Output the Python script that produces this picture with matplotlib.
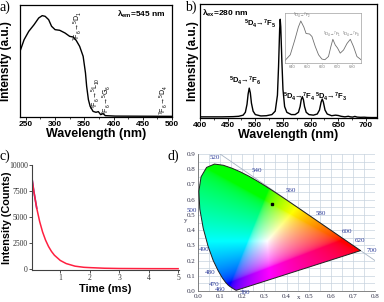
import numpy as np
import matplotlib
matplotlib.use('Agg')
import matplotlib.pyplot as plt
from matplotlib.patches import Polygon
from matplotlib.ticker import MultipleLocator

plt.rcParams['font.family'] = ['Liberation Sans', 'DejaVu Sans']
plt.rcParams['mathtext.default'] = 'regular'
SERIF = ['Liberation Serif', 'DejaVu Serif']

# ---------------- data ----------------
# (a) excitation spectrum
exc_wl = [240, 247, 255, 264, 272, 278, 283, 289, 294, 300, 308, 317, 325, 331, 336,
          342, 348, 352, 354, 357, 360, 365, 370, 374, 378, 382, 386, 403, 450, 500]
exc_int = [0.586, 0.69, 0.765, 0.824, 0.884, 0.905, 0.899, 0.869, 0.81, 0.78, 0.774,
           0.75, 0.72, 0.714, 0.685, 0.631, 0.542, 0.393, 0.274, 0.155, 0.095, 0.05,
           0.042, 0.048, 0.021, 0.03, 0.012, 0.008, 0.007, 0.006]

# (b) emission spectrum
em_wl = [400, 420, 440, 460, 470, 478, 482, 485, 487, 489, 491, 493, 496, 500, 510, 520,
         530, 536, 540, 542, 544, 545, 546, 548, 550, 553, 557, 565, 572, 578, 581, 583,
         585, 587, 589, 592, 597, 605, 612, 616, 619, 621, 623, 626, 630, 638, 645, 650,
         655, 662, 668, 672, 676, 680, 684, 690, 697, 702, 710, 720]
em_int = [0.01, 0.01, 0.01, 0.012, 0.015, 0.025, 0.05, 0.12, 0.21, 0.262, 0.22, 0.13,
          0.06, 0.03, 0.018, 0.02, 0.03, 0.06, 0.2, 0.45, 0.78, 0.866, 0.8, 0.5, 0.25,
          0.1, 0.05, 0.03, 0.03, 0.05, 0.1, 0.16, 0.187, 0.16, 0.1, 0.05, 0.03, 0.025,
          0.035, 0.07, 0.14, 0.166, 0.14, 0.07, 0.035, 0.02, 0.025, 0.022, 0.015, 0.01,
          0.015, 0.01, 0.008, 0.014, 0.008, 0.006, 0.007, 0.005, 0.004, 0.004]

# (b) inset
ins_wl = [635.6, 639, 642, 644.4, 646, 648, 649.5, 651.8, 653.4, 655.6, 657.8, 660, 662,
          664.4, 666, 667.3, 668.9, 670.4, 672.2, 674.4, 676.7, 678.9, 681, 683.3, 686]
ins_int = [0.053, 0.164, 0.46, 0.72, 0.84, 0.72, 0.59, 0.58, 0.53, 0.33, 0.164, 0.079,
           0.066, 0.13, 0.33, 0.474, 0.36, 0.30, 0.197, 0.26, 0.39, 0.474, 0.33, 0.13, 0.066]

# (c) decay curve
decay_t = [0.04, 0.05, 0.1, 0.2, 0.3, 0.4, 0.5, 0.6, 0.7, 0.8, 1.0, 1.2, 1.5, 1.8, 2.0,
           2.5, 3.0, 4.0, 5.0]
decay_i = [8700, 8500, 7500, 5840, 4550, 3540, 2760, 2150, 1675, 1305, 800, 500, 250,
           140, 110, 50, 25, 10, 5]

# (d) CIE 1931 spectral locus
cie_wl = [380, 390, 400, 410, 420, 430, 440, 450, 460, 465, 470, 475, 480, 485, 490, 495,
          500, 505, 510, 515, 520, 525, 530, 535, 540, 545, 550, 555, 560, 565, 570, 575,
          580, 585, 590, 595, 600, 605, 610, 620, 630, 640, 650, 660, 680, 700]
cie_x = [0.1741, 0.1738, 0.1733, 0.1726, 0.1714, 0.1689, 0.1644, 0.1566, 0.1440, 0.1355,
         0.1241, 0.1096, 0.0913, 0.0687, 0.0454, 0.0235, 0.0082, 0.0039, 0.0139, 0.0389,
         0.0743, 0.1142, 0.1547, 0.1929, 0.2296, 0.2658, 0.3016, 0.3373, 0.3731, 0.4087,
         0.4441, 0.4788, 0.5125, 0.5448, 0.5752, 0.6029, 0.6270, 0.6482, 0.6658, 0.6915,
         0.7079, 0.7190, 0.7260, 0.7300, 0.7334, 0.7347]
cie_y = [0.0050, 0.0049, 0.0048, 0.0048, 0.0051, 0.0069, 0.0109, 0.0177, 0.0297, 0.0399,
         0.0578, 0.0868, 0.1327, 0.2007, 0.2950, 0.4127, 0.5384, 0.6548, 0.7502, 0.8120,
         0.8338, 0.8262, 0.8059, 0.7816, 0.7543, 0.7243, 0.6923, 0.6589, 0.6245, 0.5896,
         0.5547, 0.5202, 0.4866, 0.4544, 0.4242, 0.3965, 0.3725, 0.3514, 0.3340, 0.3083,
         0.2920, 0.2809, 0.2740, 0.2700, 0.2666, 0.2653]
sample_xy = (0.335, 0.57)
wl_labels = ['380', '460', '470', '480', '490', '500', '520', '540', '560', '580', '600', '620', '700']

# ---------------- figure ----------------
fig = plt.figure(figsize=(3.84, 3.02), dpi=100)
W, H = 384.0, 302.0


def box(l, t, r, b):
    return [l / W, 1 - b / H, (r - l) / W, (b - t) / H]


def style_spec(ax):
    ax.tick_params(axis='x', which='major', direction='out', length=2, width=0.6,
                   labelsize=6, pad=1)
    ax.tick_params(axis='x', which='minor', direction='out', length=1.2, width=0.5)
    ax.tick_params(axis='y', left=False, labelleft=False)
    for lab in ax.get_xticklabels():
        lab.set_fontweight('bold')
    for s in ax.spines.values():
        s.set_linewidth(0.9)


# ---- (a)
axa = fig.add_axes(box(20, 5, 172, 117))
axa.plot(exc_wl, exc_int, color='black', lw=1.0)
axa.set_xlim(240, 500)
axa.set_ylim(0, 1)
axa.xaxis.set_major_locator(MultipleLocator(50))
axa.xaxis.set_minor_locator(MultipleLocator(25))
style_spec(axa)
axa.set_xlabel('Wavelength (nm)', fontsize=9, fontweight='bold', labelpad=0)
axa.set_ylabel('Intensity (a.u.)', fontsize=8.5, fontweight='bold')
axa.yaxis.set_label_coords(-0.05, 0.5)
axa.text(0.96, 0.92, 'λ$_{em}$=545 nm', transform=axa.transAxes, ha='right', va='center',
         fontsize=6, fontweight='bold')
ann_kw = dict(rotation=90, fontsize=5, ha='center', va='bottom')
axa.text(338, 0.68, '$^{7}$F$_{6}$→$^{5}$D$_{1}$', **ann_kw)
axa.text(369, 0.07, '$^{7}$F$_{6}$→$^{5}$L$_{10}$', **ann_kw)
axa.text(388, 0.02, '$^{7}$F$_{6}$→$^{5}$G$_{6}$', **ann_kw)
axa.text(486, 0.02, '$^{7}$F$_{6}$→$^{5}$D$_{4}$', **ann_kw)

# ---- (b)
axb = fig.add_axes(box(200, 4, 377, 118))
axb.plot(em_wl, em_int, color='black', lw=1.0)
axb.set_xlim(400, 720)
axb.set_ylim(0, 1)
axb.xaxis.set_major_locator(MultipleLocator(50))
axb.xaxis.set_minor_locator(MultipleLocator(25))
style_spec(axb)
axb.set_xlabel('Wavelength (nm)', fontsize=9, fontweight='bold', labelpad=0)
axb.set_ylabel('Intensity (a.u.)', fontsize=8.5, fontweight='bold')
axb.yaxis.set_label_coords(-0.008, 0.5)
axb.text(404, 0.92, 'λ$_{ex}$=280 nm', ha='left', va='center', fontsize=6, fontweight='bold')
bkw = dict(fontsize=5.5, fontweight='bold', va='center')
axb.text(539, 0.83, '$^{5}$D$_{4}$→$^{7}$F$_{5}$', ha='right', **bkw)
axb.text(481, 0.33, '$^{5}$D$_{4}$→$^{7}$F$_{6}$', ha='center', **bkw)
axb.text(579, 0.19, '$^{5}$D$_{4}$→$^{7}$F$_{4}$', ha='center', **bkw)
axb.text(638, 0.19, '$^{5}$D$_{4}$→$^{7}$F$_{3}$', ha='center', **bkw)

# inset
axi = fig.add_axes(box(285, 13, 361, 63))
axi.plot(ins_wl, ins_int, color='#707070', lw=0.6)
axi.set_xlim(635.5, 686)
axi.set_ylim(0, 1)
axi.set_xticks([640, 650, 660, 670, 680])
axi.tick_params(axis='x', labelsize=3, length=1, width=0.4, pad=0.5, colors='#808080')
axi.tick_params(axis='y', left=False, labelleft=False)
for s in axi.spines.values():
    s.set_color('#a0a0a0')
    s.set_linewidth(0.5)
ikw = dict(fontsize=3, color='#707070', ha='center', va='center')
axi.text(647, 0.95, '$^{5}$D$_{4}$→$^{7}$F$_{2}$', **ikw)
axi.text(667, 0.58, '$^{5}$D$_{4}$→$^{7}$F$_{1}$', **ikw)
axi.text(679.5, 0.58, '$^{5}$D$_{4}$→$^{7}$F$_{0}$', **ikw)

# ---- (c)
axc = fig.add_axes(box(32, 165, 179, 270))
axc.plot(decay_t[:4], decay_i[:4], color='#6040c0', lw=1.2)
axc.plot(decay_t[1:], decay_i[1:], color='#ff2040', lw=1.1)
axc.set_xlim(0.04, 5.03)
axc.set_ylim(-120, 10000)
axc.set_xticks([1, 2, 3, 4, 5])
axc.set_yticks([0, 2500, 5000, 7500, 10000])
axc.spines['top'].set_visible(False)
axc.spines['right'].set_visible(False)
for s in ('left', 'bottom'):
    axc.spines[s].set_linewidth(0.8)
    axc.spines[s].set_color('#404040')
axc.tick_params(labelsize=5.5, length=2, width=0.6, pad=1, colors='#303030')
for lab in axc.get_xticklabels() + axc.get_yticklabels():
    lab.set_family(SERIF)
axc.set_xlabel('Time (ms)', fontsize=8, fontweight='bold', labelpad=1)
axc.set_ylabel('Intensity (Counts)', fontsize=7.8, fontweight='bold')
axc.yaxis.set_label_coords(-0.135, 0.5)

# ---- (d)
axd = fig.add_axes(box(198, 154, 375, 291))
axd.set_xlim(0, 0.8)
axd.set_ylim(0, 0.9)
axd.set_axisbelow(True)
axd.xaxis.set_major_locator(MultipleLocator(0.1))
axd.yaxis.set_major_locator(MultipleLocator(0.1))
axd.xaxis.set_minor_locator(MultipleLocator(0.05))
axd.yaxis.set_minor_locator(MultipleLocator(0.05))
axd.grid(True, which='both', color='#c8d3de', lw=0.5)
axd.tick_params(which='both', length=0, labelsize=5, pad=2, colors='#303048')
axd.set_xticklabels([f'{v:.1f}' for v in axd.get_xticks()])
axd.set_yticklabels([f'{v:.1f}' for v in axd.get_yticks()])
for lab in axd.get_xticklabels() + axd.get_yticklabels():
    lab.set_family(SERIF)
for s in ('top', 'right'):
    axd.spines[s].set_visible(False)
for s in ('left', 'bottom'):
    axd.spines[s].set_color('#707070')
    axd.spines[s].set_linewidth(0.6)

# chromaticity colour field
gx = np.linspace(0, 0.8, 320)
gy = np.linspace(0.001, 0.9, 360)
XX, YY = np.meshgrid(gx, gy)
Xc = XX / YY
Yc = np.ones_like(XX)
Zc = (1 - XX - YY) / YY
M = np.array([[3.2406, -1.5372, -0.4986],
              [-0.9689, 1.8758, 0.0415],
              [0.0557, -0.2040, 1.0570]])
rgb = np.einsum('ij,jkl->kli', M, np.stack([Xc, Yc, Zc]))
rgb = np.clip(rgb, 0, None)
rgb = rgb / np.maximum(rgb.max(axis=2, keepdims=True), 1e-9)
rgb = np.where(rgb <= 0.0031308, 12.92 * rgb, 1.055 * np.power(rgb, 1 / 2.4) - 0.055)
rgb = np.clip(rgb, 0, 1)
locus = Polygon(np.column_stack([cie_x, cie_y]), closed=True, facecolor='none',
                edgecolor='#202020', lw=0.7, zorder=3)
axd.add_patch(locus)
im = axd.imshow(rgb, extent=(0, 0.8, 0.001, 0.9), origin='lower', aspect='auto',
                interpolation='bilinear', zorder=2)
im.set_clip_path(locus)
axd.plot([0.1, 0.8], [0.9, 0.2], color='#a8b4c4', lw=0.6, zorder=1.5)
axd.plot([sample_xy[0]], [sample_xy[1]], marker='s', ms=2, color='black', zorder=4)

lab_pos = {'380': (0.21, -0.012), '460': (0.10, 0.012), '470': (0.071, 0.044),
           '480': (0.056, 0.12), '490': (0.026, 0.27), '500': (-0.028, 0.527),
           '520': (0.078, 0.876), '540': (0.267, 0.79), '560': (0.418, 0.657),
           '580': (0.553, 0.51), '600': (0.674, 0.394), '620': (0.73, 0.33),
           '700': (0.787, 0.263)}
for lab in wl_labels:
    px, py = lab_pos[lab]
    axd.text(px, py, lab, fontsize=5, color='#2d3c9a', family=SERIF, ha='center',
             va='center', zorder=5, clip_on=False)
axd.text(-0.058, 0.46, 'y', fontsize=5, color='#303048', family=SERIF, ha='center',
         va='center', clip_on=False)
axd.text(0.455, -0.04, 'x', fontsize=5, color='#303048', family=SERIF, ha='center',
         va='center', clip_on=False)

# panel letters
fig.text(0.0, 1 - 1 / H, 'a)', fontsize=10, family=SERIF, va='top', ha='left')
fig.text(185 / W, 1 - 1 / H, 'b)', fontsize=10, family=SERIF, va='top', ha='left')
fig.text(0.0, 1 - 150 / H, 'c)', fontsize=10, family=SERIF, va='top', ha='left')
fig.text(168 / W, 1 - 150 / H, 'd)', fontsize=10, family=SERIF, va='top', ha='left')

fig.savefig('out.png', dpi=100)
